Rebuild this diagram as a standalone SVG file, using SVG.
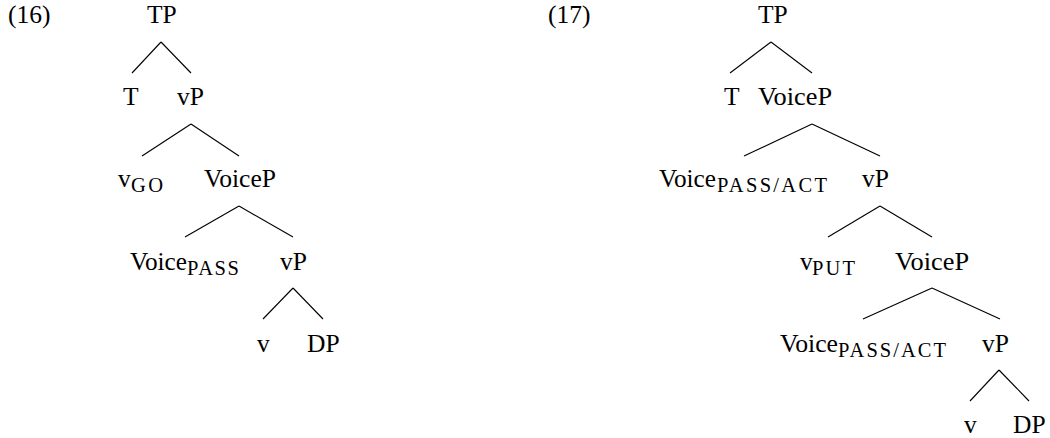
<svg xmlns="http://www.w3.org/2000/svg" width="1050" height="438" viewBox="0 0 1050 438">
<style>
text{font-family:"Liberation Serif","Times New Roman",serif;font-size:25.5px;fill:#000}
text.sub{font-size:20.5px}
.edges line{stroke:#000;stroke-width:1.1;fill:none}
</style>
<rect width="1050" height="438" fill="#fff"/>
<g id="labels">
<text id="ex16" x="8" y="23">(16)</text>
<text id="ex17" x="548" y="23">(17)</text>
</g>
<g class="edges" id="connectors">
<line x1="161" y1="42" x2="132" y2="73"/><line x1="161" y1="42" x2="191" y2="73"/>
<line x1="191" y1="124" x2="142" y2="156"/><line x1="191" y1="124" x2="239" y2="156"/>
<line x1="239" y1="206" x2="185" y2="237"/><line x1="239" y1="206" x2="293" y2="237"/>
<line x1="293" y1="288" x2="263" y2="319"/><line x1="293" y1="288" x2="323" y2="319"/>
<line x1="771" y1="42" x2="730" y2="73"/><line x1="771" y1="42" x2="812" y2="73"/>
<line x1="812" y1="124" x2="744" y2="156"/><line x1="812" y1="124" x2="880" y2="156"/>
<line x1="880" y1="206" x2="828" y2="237"/><line x1="880" y1="206" x2="932" y2="237"/>
<line x1="932" y1="288" x2="863" y2="319"/><line x1="932" y1="288" x2="1000" y2="319"/>
<line x1="999" y1="370" x2="970" y2="401"/><line x1="999" y1="370" x2="1029" y2="401"/>
</g>
<g id="tree16">
<g id="t16-TP"><text x="147" y="23">TP</text></g>
<g id="t16-T"><text x="123" y="105">T</text></g>
<g id="t16-vP1"><text x="177" y="105">vP</text></g>
<g id="t16-vGO"><text x="118" y="187">v</text><text class="sub" x="131" y="192" textLength="32" lengthAdjust="spacing">GO</text></g>
<g id="t16-VoiceP"><text x="204" y="187" textLength="72" lengthAdjust="spacingAndGlyphs">VoiceP</text></g>
<g id="t16-VoicePASS"><text x="130" y="270" textLength="57" lengthAdjust="spacingAndGlyphs">Voice</text><text class="sub" x="187" y="275" textLength="52" lengthAdjust="spacing">PASS</text></g>
<g id="t16-vP2"><text x="280" y="270">vP</text></g>
<g id="t16-v"><text x="257" y="352">v</text></g>
<g id="t16-DP"><text x="307" y="352">DP</text></g>
</g>
<g id="tree17">
<g id="t17-TP"><text x="758" y="23">TP</text></g>
<g id="t17-T"><text x="724" y="105">T</text></g>
<g id="t17-VoiceP1"><text x="758" y="105" textLength="74" lengthAdjust="spacingAndGlyphs">VoiceP</text></g>
<g id="t17-Voice1"><text x="659" y="187" textLength="57" lengthAdjust="spacingAndGlyphs">Voice</text><text class="sub" x="717" y="192" textLength="110" lengthAdjust="spacing">PASS/ACT</text></g>
<g id="t17-vP1"><text x="862" y="187">vP</text></g>
<g id="t17-vPUT"><text x="800" y="270">v</text><text class="sub" x="812" y="275" textLength="43" lengthAdjust="spacing">PUT</text></g>
<g id="t17-VoiceP2"><text x="895" y="270" textLength="74" lengthAdjust="spacingAndGlyphs">VoiceP</text></g>
<g id="t17-Voice2"><text x="780" y="352" textLength="58" lengthAdjust="spacingAndGlyphs">Voice</text><text class="sub" x="838" y="357" textLength="108" lengthAdjust="spacing">PASS/ACT</text></g>
<g id="t17-vP2"><text x="982" y="352">vP</text></g>
<g id="t17-v"><text x="964" y="433">v</text></g>
<g id="t17-DP"><text x="1013" y="433">DP</text></g>
</g>
</svg>
